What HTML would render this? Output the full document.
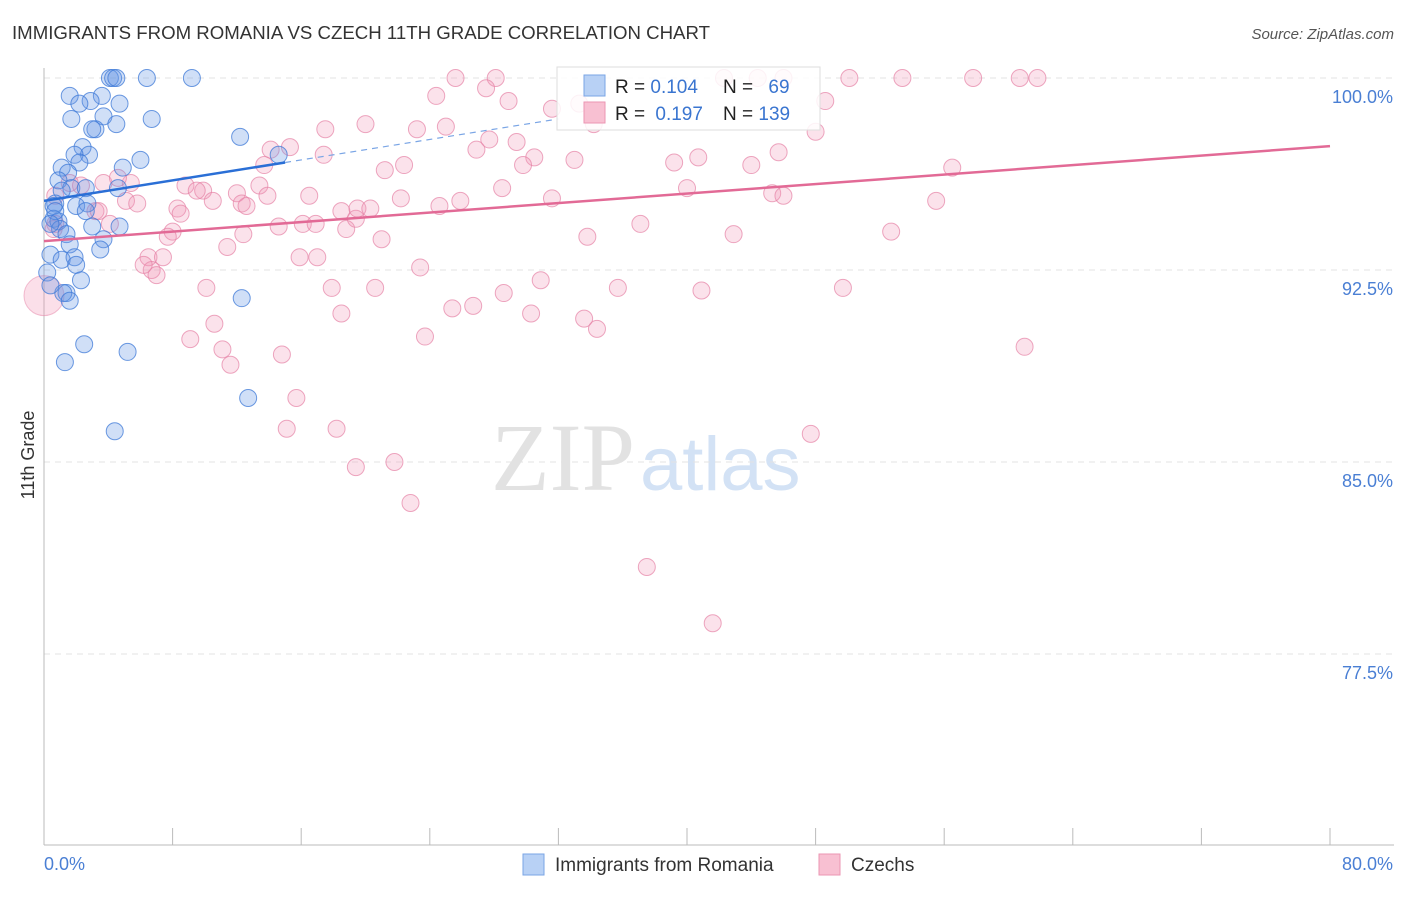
<!DOCTYPE html>
<html><head><meta charset="utf-8"><style>
body{margin:0;background:#fff;font-family:"Liberation Sans",sans-serif}
</style></head><body>
<svg id="c" width="1406" height="892" xmlns="http://www.w3.org/2000/svg" style="font-family:'Liberation Sans',sans-serif">
<text x="12" y="39" font-size="18" fill="#333" textLength="698" lengthAdjust="spacingAndGlyphs">IMMIGRANTS FROM ROMANIA VS CZECH 11TH GRADE CORRELATION CHART</text>
<text x="1394" y="39" font-size="15" fill="#555" text-anchor="end" font-style="italic">Source: ZipAtlas.com</text>
<g>
<text x="635" y="490" font-size="96" fill="#e2e2e2" text-anchor="end" font-family="Liberation Serif,serif">ZIP</text>
<text x="640" y="490" font-size="76" fill="#d3e2f5">atlas</text>
</g>
<g id="grid"></g><g id="axes"></g><g id="pts"></g><g id="lines"></g>
<g>
<rect x="557" y="67" width="263" height="63" fill="#fff" fill-opacity="0.85" stroke="#ddd"/>
<rect x="584" y="75" width="21" height="21" fill="#b8d1f5" stroke="#7aa5e5"/>
<rect x="584" y="102" width="21" height="21" fill="#f8c0d2" stroke="#eb96b3"/>
<text x="615" y="93" font-size="19" fill="#222">R = <tspan fill="#3a75d0">0.104</tspan></text>
<text x="723" y="93" font-size="19" fill="#222">N = <tspan fill="#3a75d0" dx="10">69</tspan></text>
<text x="615" y="120" font-size="19" fill="#222">R = <tspan fill="#3a75d0" dx="5">0.197</tspan></text>
<text x="723" y="120" font-size="19" fill="#222">N = <tspan fill="#3a75d0">139</tspan></text>
</g>
<g>
<rect x="523" y="854" width="21" height="21" fill="#b8d1f5" stroke="#7aa5e5"/>
<text x="555" y="871" font-size="19" fill="#333">Immigrants from Romania</text>
<rect x="819" y="854" width="21" height="21" fill="#f8c0d2" stroke="#eb96b3"/>
<text x="851" y="871" font-size="19" fill="#333">Czechs</text>
</g>
<text transform="translate(34,455) rotate(-90)" font-size="18" fill="#333" text-anchor="middle">11th Grade</text>
</svg>
<script>
const xTicks=[0,80];
const yTicks=[100,92.5,85,77.5];
const blueX=[4.1,4.3,4.5,6.4,9.2,1.6,3.6,2.9,2.2,4.7,1.7,3.7,4.5,6.7,3.2,3.0,12.2,2.4,2.8,1.9,1.1,6.0,4.9,2.2,14.6,1.5,0.9,1.7,2.6,4.6,1.1,0.7,0.6,2.0,2.7,2.6,0.6,0.9,1.0,3.0,4.7,1.4,1.6,3.7,3.5,0.4,1.1,1.9,2.0,0.2,2.3,1.4,1.2,0.4,1.6,2.5,5.2,1.3,12.3,12.7,4.4,0.7,0.4];
const blueY=[100,100,100,100,100,99.3,99.3,99.1,99.0,99.0,98.4,98.5,98.2,98.4,98.0,98.0,97.7,97.3,97.0,97.0,96.5,96.8,96.5,96.7,97.0,96.3,96.0,95.7,95.7,95.7,95.6,95.1,95.0,95.0,95.1,94.8,94.5,94.4,94.1,94.2,94.2,93.9,93.5,93.7,93.3,93.1,92.9,93.0,92.7,92.4,92.1,91.6,91.6,91.9,91.3,89.6,89.3,88.9,91.4,87.5,86.2,94.8,94.3];
const pinkX=[25.6,28.1,44.4,46.0,50.1,53.4,57.8,60.7,61.8,42.3,24.4,27.5,28.9,31.6,33.3,48.6,34.2,48.0,17.5,20.0,23.2,25.0,27.7,29.4,26.9,15.3,14.1,17.4,30.5,33.0,29.8,39.2,40.7,45.7,44.0,22.4,21.2,13.7,13.4,5.4,3.7,4.6,2.3,1.6,0.7,8.8,9.9,9.5,12.0,13.9,16.5,28.5,40.0,45.3,46.0,56.5,24.6,25.9,22.2,10.5,12.3,12.6,8.3,8.5,5.1,5.8,3.2,3.4,4.1,0.6,0.7,14.6,16.1,16.9,18.8,19.4,18.5,19.5,20.3,31.6,55.5,37.1,42.9,52.7,33.8,21.0,12.4,11.4,8.0,7.7,6.5,6.7,7.0,6.2,7.4,15.9,17.0,23.4,30.9,35.7,40.9,49.7,28.6,20.6,17.9,10.1,25.4,26.7,30.3,33.6,34.4,18.5,23.7,10.6,9.1,11.1,11.6,14.8,61.0,15.7,15.1,18.2,19.4,21.8,47.7,22.8,37.5,41.6];
const pinkY=[100,100,100,100,100,100,100,100,100,100,99.3,99.6,99.1,98.8,99.0,99.1,98.2,97.9,98.0,98.2,98.0,98.1,97.6,97.5,97.2,97.3,97.2,97.0,96.9,96.8,96.6,96.7,96.9,97.1,96.6,96.6,96.4,96.6,95.8,95.9,95.9,96.1,95.8,95.9,95.4,95.8,95.6,95.6,95.5,95.4,95.4,95.7,95.7,95.5,95.4,96.5,95.0,95.2,95.3,95.2,95.1,95.0,94.9,94.7,95.2,95.1,94.8,94.8,94.3,94.1,94.3,94.2,94.3,94.3,94.1,94.5,94.8,94.9,94.9,95.3,95.2,94.3,93.9,94.0,93.8,93.7,93.9,93.4,94.0,93.8,93.0,92.5,92.3,92.7,93.0,93.0,93.0,92.6,92.1,91.8,91.7,91.8,91.6,91.8,91.8,91.8,91.0,91.1,90.8,90.6,90.2,90.8,89.9,90.4,89.8,89.4,88.8,89.2,89.5,87.5,86.3,86.3,84.8,85.0,86.1,83.4,80.9,78.7];
const bigPink=[0,91.5];
const blueTrend=[[0,95.2],[15,96.7],[32,98.4]];
const pinkTrend=[[0,93.63],[80,97.34]];
const X0=44,X1=1330,Y0=78,PY=25.6;
const sx=v=>X0+(X1-X0)*v/80;
const sy=v=>Y0+(100-v)*PY;
const NS="http://www.w3.org/2000/svg";
function mk(p,t,a){const e=document.createElementNS(NS,t);for(const k in a)e.setAttribute(k,a[k]);p.appendChild(e);return e;}
const grid=document.getElementById('grid'),axes=document.getElementById('axes'),pts=document.getElementById('pts'),lines=document.getElementById('lines');
yTicks.forEach(v=>{
 const l=mk(grid,'line',{x1:X0,x2:1394,y1:sy(v),y2:sy(v),stroke:'#e3e3e3','stroke-dasharray':'6,5'});
 
 
 const t=mk(axes,'text',{x:1393,y:sy(v)+25,'font-size':18,fill:'#4a7fd4','text-anchor':'end'});
 t.textContent=v.toFixed(1)+'%';
 
 
});
const ax=mk(axes,'line',{x1:X0,x2:X0,y1:68,y2:845,stroke:'#bbb'});


const bx=mk(axes,'line',{x1:X0,x2:1394,y1:845,y2:845,stroke:'#bbb'});


for(let i=0;i<=10;i++){const tk=mk(axes,'line',{x1:sx(i*8),x2:sx(i*8),y1:828,y2:845,stroke:'#bbb'});
 
 }
xTicks.forEach((v,i)=>{const t=mk(axes,'text',{x:i?sx(v)+63:sx(v),y:870,'font-size':18,fill:'#4a7fd4','text-anchor':i?'end':'start'});
 t.textContent=v.toFixed(1)+'%';
 
 });
pinkX.forEach((x,i)=>{const c=mk(pts,'circle',{cx:sx(x),cy:sy(pinkY[i]),r:8.5,fill:'rgba(242,150,182,0.28)',stroke:'rgba(230,130,165,0.7)'});
 
 });
const bp=mk(pts,'circle',{cx:sx(bigPink[0]),cy:sy(bigPink[1]),r:20,fill:'rgba(242,150,182,0.3)',stroke:'rgba(230,130,165,0.5)'});


blueX.forEach((x,i)=>{const c=mk(pts,'circle',{cx:sx(x),cy:sy(blueY[i]),r:8.5,fill:'rgba(100,150,230,0.3)',stroke:'rgba(60,120,215,0.75)'});
 
 });
const bl=mk(lines,'line',{x1:sx(blueTrend[0][0]),y1:sy(blueTrend[0][1]),x2:sx(blueTrend[1][0]),y2:sy(blueTrend[1][1]),stroke:'#2a6fd6','stroke-width':2.5});


const bd=mk(lines,'line',{x1:sx(blueTrend[1][0]),y1:sy(blueTrend[1][1]),x2:sx(blueTrend[2][0]),y2:sy(blueTrend[2][1]),stroke:'#7aa5e5','stroke-width':1.2,'stroke-dasharray':'6,5'});


const pl=mk(lines,'line',{x1:sx(pinkTrend[0][0]),y1:sy(pinkTrend[0][1]),x2:sx(pinkTrend[1][0]),y2:sy(pinkTrend[1][1]),stroke:'#e26a96','stroke-width':2.5});


</script>
</body></html>
